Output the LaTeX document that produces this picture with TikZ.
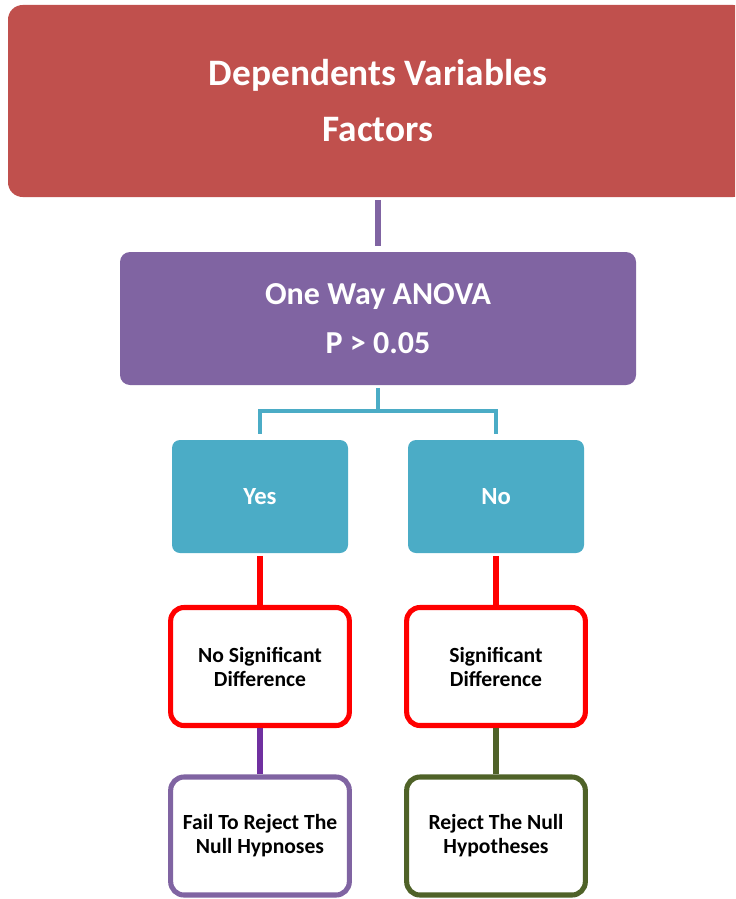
\documentclass[tikz,border=0pt]{standalone}
\usepackage{fontspec}
\setmainfont{Carlito}
\usetikzlibrary{calc}

\definecolor{boxred}{HTML}{C0504D}
\definecolor{boxpurple}{HTML}{8064A2}
\definecolor{boxteal}{HTML}{4BACC6}
\definecolor{linered}{HTML}{FF0000}
\definecolor{lineviolet}{HTML}{7030A0}
\definecolor{boxolive}{HTML}{4F6228}

\begin{document}
\begin{tikzpicture}[x=0.75pt,y=-0.75pt,
    filled/.style={rectangle,align=center,text=white,inner sep=0pt},
    framed/.style={rectangle,rounded corners=10pt,draw,line width=3.8pt,align=center,inner sep=0pt,
        minimum width=134pt,minimum height=88.5pt,font=\bfseries\fontsize{16.2}{18}\selectfont},
    link/.style={line width=#1,line cap=butt}
]
\clip (0,0) rectangle (735,899);

% Top box
\node[filled,fill=boxred,rounded corners=11pt,minimum width=555pt,minimum height=144pt,
    font=\bfseries\fontsize{28}{42}\selectfont] (dep) at (378,101) {Dependents Variables\\Factors};

% ANOVA box
\node[filled,fill=boxpurple,rounded corners=7.5pt,minimum width=387pt,minimum height=99.75pt,
    font=\bfseries\fontsize{24}{37}\selectfont] (anova) at (378,318.5) {One Way ANOVA\\P > 0.05};

% Yes / No boxes
\node[filled,fill=boxteal,rounded corners=6pt,minimum width=132pt,minimum height=84.75pt,
    font=\bfseries\fontsize{18.5}{20}\selectfont] (yes) at (260,496.5) {Yes};
\node[filled,fill=boxteal,rounded corners=6pt,minimum width=132pt,minimum height=84.75pt,
    font=\bfseries\fontsize{18.5}{20}\selectfont] (no) at (496,496.5) {No};

% Outcome boxes
\node[framed,draw=linered] (nosig) at (260,666.5) {No Significant\\Difference};
\node[framed,draw=linered] (sig) at (496,666.5) {Significant\\Difference};

% Decision boxes
\node[framed,draw=boxpurple] (fail) at (260,836) {Fail To Reject The\\Null Hypnoses};
\node[framed,draw=boxolive] (rej) at (496,836) {Reject The Null\\Hypotheses};

% connectors
\draw[link=4.5pt,boxpurple,shorten <=2pt,shorten >=4.5pt] (dep.south) -- (anova.north);

\coordinate (fork) at (378,411);
\draw[link=3pt,boxteal,shorten <=2pt] (anova.south) -- (fork);
\draw[link=3pt,boxteal,shorten >=4.5pt] ($(fork)+(1.5pt,0)$) -| (yes.north);
\draw[link=3pt,boxteal,shorten >=4.5pt] ($(fork)-(1.5pt,0)$) -| (no.north);

\draw[link=3.8pt,linered,shorten <=2pt] (yes.south) -- (nosig.north);
\draw[link=3.8pt,linered,shorten <=2pt] (no.south) -- (sig.north);

\draw[link=3.8pt,lineviolet] (nosig.south) -- (fail.north);
\draw[link=3.8pt,boxolive] (sig.south) -- (rej.north);

\end{tikzpicture}
\end{document}
